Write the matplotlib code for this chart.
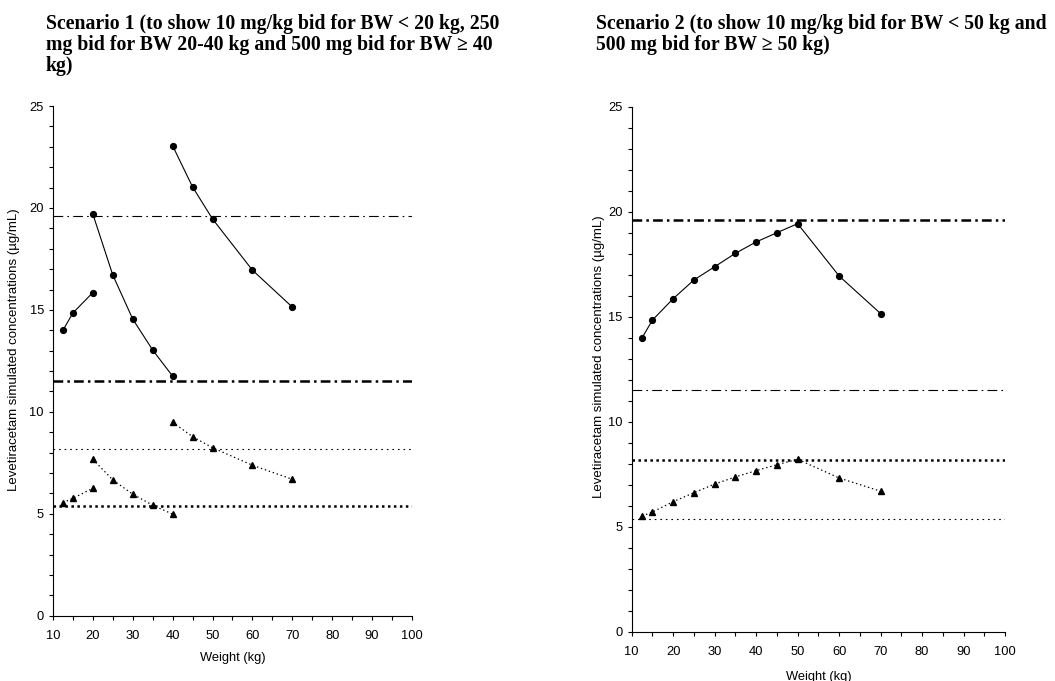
import matplotlib.pyplot as plt
from matplotlib.ticker import MultipleLocator

plt.rcParams.update({
    "font.family": "sans-serif",
    "font.sans-serif": ["Liberation Sans", "DejaVu Sans"],
    "font.size": 9,
    "lines.scale_dashes": False,
})

# Scenario 1: three dosing bands (10 mg/kg, 250 mg, 500 mg)
s1_w = [[12.5, 15, 20], [20, 25, 30, 35, 40], [40, 45, 50, 60, 70]]
s1_peak = [[14.0, 14.85, 15.85],
           [19.70, 16.71, 14.55, 13.03, 11.75],
           [23.05, 21.03, 19.46, 16.95, 15.14]]
s1_trough = [[5.54, 5.76, 6.25],
             [7.67, 6.66, 5.96, 5.42, 4.98],
             [9.49, 8.78, 8.24, 7.38, 6.69]]

# Scenario 2: 10 mg/kg up to 50 kg, then 500 mg
s2_w = [12.5, 15, 20, 25, 30, 35, 40, 45, 50, 60, 70]
s2_peak = [14.0, 14.84, 15.86, 16.75, 17.38, 18.02, 18.56, 19.0, 19.43, 16.94, 15.15]
s2_trough = [5.51, 5.70, 6.19, 6.62, 7.03, 7.37, 7.67, 7.95, 8.21, 7.32, 6.69]

# reference levels
ref_peak_hi = 19.6
ref_peak_lo = 11.5
ref_trough_hi = 8.17
ref_trough_lo = 5.36

titles = [
    "Scenario 1 (to show 10 mg/kg bid for BW < 20 kg, 250\n"
    "mg bid for BW 20-40 kg and 500 mg bid for BW \u2265 40\nkg)",
    "Scenario 2 (to show 10 mg/kg bid for BW < 50 kg and\n"
    "500 mg bid for BW \u2265 50 kg)",
]
ylabel = "Levetiracetam simulated concentrations (\u00b5g/mL)"

fig = plt.figure(figsize=(10.55, 6.81), dpi=100)
ax1 = fig.add_axes([0.0502, 0.0959, 0.3403, 0.7484])
ax2 = fig.add_axes([0.5988, 0.0724, 0.3538, 0.7709])


def style(ax):
    ax.set_xlim(10, 100)
    ax.set_ylim(0, 25)
    ax.xaxis.set_major_locator(MultipleLocator(10))
    ax.xaxis.set_minor_locator(MultipleLocator(5))
    ax.yaxis.set_major_locator(MultipleLocator(5))
    ax.yaxis.set_minor_locator(MultipleLocator(1))
    ax.tick_params(which="both", direction="out", length=3, width=0.8,
                   labelsize=9.3)
    ax.tick_params(axis="x", which="both", pad=7)
    ax.spines["top"].set_visible(False)
    ax.spines["right"].set_visible(False)
    ax.set_xlabel("Weight (kg)", fontsize=9.3)
    ax.set_ylabel(ylabel, fontsize=9.5)


def hlines(ax, thick_dashdot, thin_dashdot, thick_dot, thin_dot):
    ax.axhline(thick_dashdot, color="k", lw=1.8, ls=(0, (7, 3, 1.8, 3)))
    ax.axhline(thin_dashdot, color="k", lw=0.8, ls=(0, (7, 3, 1.2, 3)))
    ax.axhline(thick_dot, color="k", lw=1.8, ls=(0, (1.8, 2.5)))
    ax.axhline(thin_dot, color="k", lw=0.8, ls=(0, (1.2, 2.8)))


# Scenario 1
hlines(ax1, ref_peak_lo, ref_peak_hi, ref_trough_lo, ref_trough_hi)
for w, p, t in zip(s1_w, s1_peak, s1_trough):
    ax1.plot(w, p, "-o", color="k", lw=0.8, ms=4.2)
    ax1.plot(w, t, "^", ls=(0, (1, 2)), color="k", lw=0.9, ms=5)
style(ax1)
ax1.yaxis.set_label_coords(-0.092, 0.521)
ax1.xaxis.set_label_coords(0.5, -0.072)

# Scenario 2
hlines(ax2, ref_peak_hi, ref_peak_lo, ref_trough_hi, ref_trough_lo)
ax2.plot(s2_w, s2_peak, "-o", color="k", lw=0.8, ms=4.2)
ax2.plot(s2_w, s2_trough, "^", ls=(0, (1, 2)), color="k", lw=0.9, ms=5)
style(ax2)
ax2.yaxis.set_label_coords(-0.0715, 0.523)
ax2.xaxis.set_label_coords(0.5, -0.075)

title_kw = dict(fontfamily="Liberation Serif", fontweight="bold", fontsize=14.2,
                va="top", ha="left", linespacing=1.08)
fig.text(46 / 1055, 1 - 14 / 681, titles[0], **title_kw)
fig.text(596 / 1055, 1 - 14 / 681, titles[1], **title_kw)

fig.savefig("out.png", dpi=100)
